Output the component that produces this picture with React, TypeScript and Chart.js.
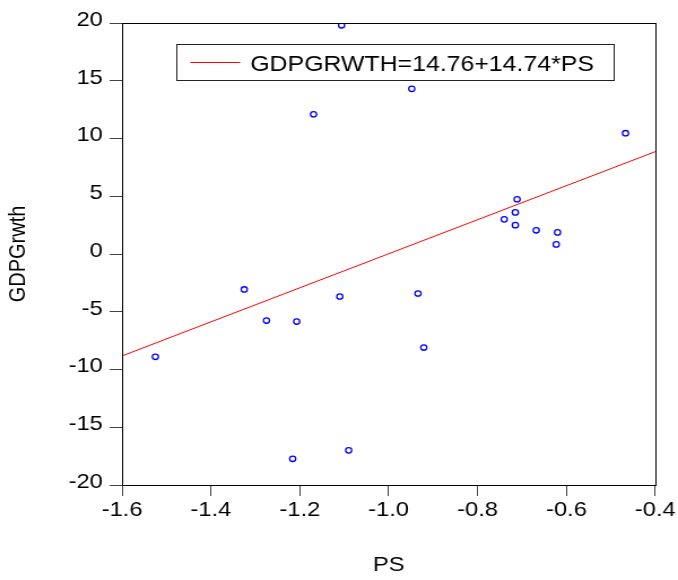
import React, { useEffect, useRef } from "react";
import { Chart, registerables } from "chart.js";

Chart.register(...registerables);

// Data
const psValues = [
  -1.525, -1.325, -1.275, -1.207, -1.216, -1.169, -1.110, -1.106, -1.090, -0.948,
  -0.934, -0.921, -0.740, -0.711, -0.715, -0.715, -0.668, -0.620, -0.623, -0.467,
];
const gdpValues = [
  -8.9, -3.07, -5.76, -5.85, -17.73, 12.1, -3.68, 19.8, -17.0, 14.3,
  -3.42, -8.1, 3.0, 4.74, 3.6, 2.5, 2.05, 1.87, 0.83, 10.46,
];
const intercept = 14.76;
const slope = 14.74;
const legendLabel = "GDPGRWTH=14.76+14.74*PS";
const xTicks = [-1.6, -1.4, -1.2, -1.0, -0.8, -0.6, -0.4];
const yTicks = [-20, -15, -10, -5, 0, 5, 10, 15, 20];
const xTitle = "PS";
const yTitle = "GDPGrwth";

const FONT = "'Liberation Sans', Arial, sans-serif";
const INNER_W = 600;
const OUTER_W = 678;
const H = 580;

export default function App() {
  const ref = useRef<HTMLCanvasElement | null>(null);

  useEffect(() => {
    const canvas = ref.current;
    if (!canvas) return;
    const xMin = xTicks[0];
    const xMax = xTicks[xTicks.length - 1];

    const legendPlugin = {
      id: "eqLegend",
      afterDraw(chart: any) {
        const { ctx, chartArea } = chart;
        ctx.save();
        // frame
        ctx.strokeStyle = "#000";
        ctx.lineWidth = 1;
        ctx.strokeRect(
          Math.round(chartArea.left) + 0.5,
          Math.round(chartArea.top) + 0.5,
          Math.round(chartArea.right - chartArea.left),
          Math.round(chartArea.bottom - chartArea.top)
        );
        // legend box
        const bx = Math.round(chartArea.left + 48) + 0.5;
        const by = Math.round(chartArea.top + 21) + 0.5;
        const bw = 387;
        const bh = 36;
        ctx.strokeStyle = "#222";
        ctx.strokeRect(bx, by, bw, bh);
        ctx.strokeStyle = "#ff0000";
        ctx.beginPath();
        ctx.moveTo(bx + 12, by + 18);
        ctx.lineTo(bx + 56, by + 18);
        ctx.stroke();
        ctx.fillStyle = "#000";
        ctx.font = `22px ${FONT}`;
        ctx.textBaseline = "alphabetic";
        ctx.textAlign = "left";
        ctx.fillText(legendLabel, bx + 65, by + 26);
        ctx.restore();
      },
    };

    const chart = new Chart(canvas, {
      type: "scatter",
      data: {
        datasets: [
          {
            label: "points",
            data: psValues.map((x, i) => ({ x, y: gdpValues[i] })),
            borderColor: "#0000ff",
            backgroundColor: "rgba(255,255,255,0)",
            borderWidth: 1.3,
            pointRadius: 2.7,
            pointHoverRadius: 2.7,
          },
          {
            type: "line",
            label: legendLabel,
            data: [
              { x: xMin, y: intercept + slope * xMin },
              { x: xMax, y: intercept + slope * xMax },
            ],
            borderColor: "#ff0000",
            borderWidth: 1,
            pointRadius: 0,
            fill: false,
            showLine: true,
          } as any,
        ],
      },
      options: {
        responsive: false,
        animation: false,
        devicePixelRatio: 1,
        layout: { padding: { left: 0, right: 20, top: 23, bottom: 0 } },
        plugins: { legend: { display: false }, tooltip: { enabled: false } },
        scales: {
          x: {
            type: "linear",
            min: xMin,
            max: xMax,
            afterBuildTicks: (s: any) => {
              s.ticks = xTicks.map((v) => ({ value: v }));
            },
            afterFit: (s: any) => {
              s.height = 95;
            },
            ticks: {
              color: "#000",
              font: { family: FONT, size: 21 },
              padding: 2,
              maxRotation: 0,
              autoSkip: false,
              callback: (v: any) => Number(v).toFixed(1),
            },
            grid: {
              drawOnChartArea: false,
              drawTicks: true,
              tickLength: 11,
              tickColor: "#444",
            },
            border: { display: true, color: "#000", width: 1 },
            title: {
              display: true,
              text: xTitle,
              color: "#000",
              font: { family: FONT, size: 21 },
              padding: { top: 0, bottom: 2 },
            },
          },
          y: {
            type: "linear",
            min: yTicks[0],
            max: yTicks[yTicks.length - 1],
            afterBuildTicks: (s: any) => {
              s.ticks = yTicks.map((v) => ({ value: v }));
            },
            afterFit: (s: any) => {
              s.width = 108;
            },
            ticks: {
              color: "#000",
              font: { family: FONT, size: 21 },
              padding: 6,
              labelOffset: -3,
              autoSkip: false,
              callback: (v: any) => String(v),
            },
            grid: {
              drawOnChartArea: false,
              drawTicks: true,
              tickLength: 11,
              tickColor: "#444",
            },
            border: { display: true, color: "#000", width: 1 },
            title: {
              display: true,
              text: yTitle,
              color: "#000",
              font: { family: FONT, size: 20 },
              padding: { top: 4, bottom: 0 },
            },
          },
        },
      },
      plugins: [legendPlugin],
    });

    return () => chart.destroy();
  }, []);

  return (
    <div style={{ position: "absolute", left: 0, top: 0, width: OUTER_W, height: H, background: "#fff" }}>
      <canvas
        ref={ref}
        width={INNER_W}
        height={H}
        style={{ display: "block", width: `${OUTER_W}px`, height: `${H}px` }}
      />
    </div>
  );
}
